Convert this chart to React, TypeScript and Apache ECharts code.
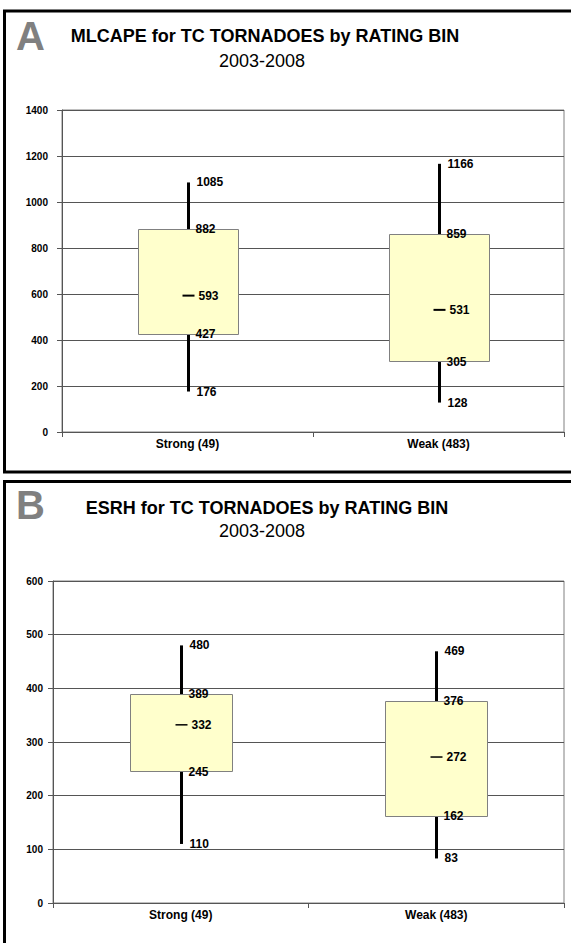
import React, { useEffect, useRef } from "react";
import * as echarts from "echarts";

const categories = ["Strong (49)", "Weak (483)"];

// MLCAPE panel A
const capeMin = [176, 128];
const capeQ1 = [427, 305];
const capeMedian = [593, 531];
const capeQ3 = [882, 859];
const capeMax = [1085, 1166];

// ESRH panel B
const esrhMin = [110, 83];
const esrhQ1 = [245, 162];
const esrhMedian = [332, 272];
const esrhQ3 = [389, 376];
const esrhMax = [480, 469];

const FONT = "'Liberation Sans', Arial, sans-serif";

function rows(mn: number[], q1: number[], md: number[], q3: number[], mx: number[]) {
  return categories.map((_, i) => [i, mn[i], q1[i], md[i], q3[i], mx[i]]);
}

function makeRender(dashWidth: number) {
  return (params: any, api: any) => {
    const idx = api.value(0);
    const mn = api.value(1);
    const q1 = api.value(2);
    const md = api.value(3);
    const q3 = api.value(4);
    const mx = api.value(5);
    const pMin = api.coord([idx, mn]);
    const pQ1 = api.coord([idx, q1]);
    const pMd = api.coord([idx, md]);
    const pQ3 = api.coord([idx, q3]);
    const pMax = api.coord([idx, mx]);
    const x = Math.round(pMin[0]) + 0.5;
    const band = api.size([1, 0])[0];
    const bw = band * 0.4;
    const font = `bold 12px ${FONT}`;
    const label = (v: number, p: number[], dx: number) => ({
      type: "text",
      style: {
        text: String(v),
        x: x + dx,
        y: p[1],
        font,
        fill: "#000",
        textAlign: "left",
        textVerticalAlign: "middle",
        verticalAlign: "middle",
      },
    });
    return {
      type: "group",
      children: [
        {
          type: "line",
          shape: { x1: x, y1: pMin[1], x2: x, y2: pMax[1] },
          style: { stroke: "#000", lineWidth: 3 },
        },
        {
          type: "rect",
          shape: {
            x: Math.round(x - bw / 2) + 0.5,
            y: Math.round(pQ3[1]) + 0.5,
            width: Math.round(bw),
            height: Math.round(pQ1[1] - pQ3[1]),
          },
          style: { fill: "#FFFFCC", stroke: "#808080", lineWidth: 1 },
        },
        {
          type: "line",
          shape: { x1: x - 6, y1: pMd[1], x2: x + 6, y2: pMd[1] },
          style: { stroke: "#000", lineWidth: dashWidth },
        },
        label(mx, pMax, 8),
        label(q3, pQ3, 7),
        label(md, pMd, 10),
        label(q1, pQ1, 7),
        label(mn, pMin, 8),
      ],
    };
  };
}

export default function App() {
  const ref = useRef<HTMLDivElement>(null);
  useEffect(() => {
    if (!ref.current) return;
    const chart = echarts.init(ref.current, undefined, { renderer: "svg" });
    const yAxisCommon = (max: number, interval: number, margin: number) => ({
      type: "value",
      min: 0,
      max,
      interval,
      axisLine: { show: true, lineStyle: { color: "#555", width: 1 } },
      axisTick: { show: true, length: 5, lineStyle: { color: "#555" } },
      axisLabel: {
        margin,
        color: "#000",
        fontWeight: "bold",
        fontSize: 10,
        fontFamily: FONT,
        formatter: (v: number) => String(v),
      },
      splitLine: { show: true, lineStyle: { color: "#555", width: 1 } },
    });
    const xAxisCommon = (gridIndex: number) => ({
      type: "category",
      gridIndex,
      data: categories,
      boundaryGap: true,
      axisLine: { show: true, lineStyle: { color: "#555", width: 1 } },
      axisTick: { show: true, length: 5, lineStyle: { color: "#555" } },
      axisLabel: {
        margin: 6,
        color: "#000",
        fontWeight: "bold",
        fontSize: 12,
        fontFamily: FONT,
      },
      splitLine: { show: false },
    });
    chart.setOption({
      animation: false,
      backgroundColor: "#fff",
      graphic: [
        {
          type: "rect",
          z: -10,
          shape: { x: 4.5, y: 11, width: 620, height: 461 },
          style: { fill: "#fff", stroke: "#000", lineWidth: 3 },
        },
        {
          type: "rect",
          z: -10,
          shape: { x: 4.5, y: 481.5, width: 620, height: 520 },
          style: { fill: "#fff", stroke: "#000", lineWidth: 3 },
        },
        {
          type: "text",
          style: { text: "A", x: 16, y: 36, font: `bold 40px ${FONT}`, fill: "#808080", textVerticalAlign: "middle", verticalAlign: "middle" },
        },
        {
          type: "text",
          style: { text: "MLCAPE for TC TORNADOES by RATING BIN", x: 265, y: 36, font: `bold 18px ${FONT}`, fill: "#000", textAlign: "center", textVerticalAlign: "middle", verticalAlign: "middle" },
        },
        {
          type: "text",
          style: { text: "2003-2008", x: 262, y: 61, font: `18px ${FONT}`, fill: "#000", textAlign: "center", textVerticalAlign: "middle", verticalAlign: "middle" },
        },
        {
          type: "text",
          style: { text: "B", x: 16, y: 505, font: `bold 40px ${FONT}`, fill: "#808080", textVerticalAlign: "middle", verticalAlign: "middle" },
        },
        {
          type: "text",
          style: { text: "ESRH for TC TORNADOES by RATING BIN", x: 267, y: 508, font: `bold 18px ${FONT}`, fill: "#000", textAlign: "center", textVerticalAlign: "middle", verticalAlign: "middle" },
        },
        {
          type: "text",
          style: { text: "2003-2008", x: 262, y: 531, font: `18px ${FONT}`, fill: "#000", textAlign: "center", textVerticalAlign: "middle", verticalAlign: "middle" },
        },
      ],
      grid: [
        { left: 62, top: 110, width: 502, height: 322, show: true, borderColor: "#808080", borderWidth: 1, backgroundColor: "transparent" },
        { left: 53, top: 581, width: 511, height: 322, show: true, borderColor: "#808080", borderWidth: 1, backgroundColor: "transparent" },
      ],
      xAxis: [xAxisCommon(0), xAxisCommon(1)],
      yAxis: [
        { ...yAxisCommon(1400, 200, 14), gridIndex: 0 },
        { ...yAxisCommon(600, 100, 10), gridIndex: 1 },
      ],
      series: [
        {
          type: "custom",
          xAxisIndex: 0,
          yAxisIndex: 0,
          renderItem: makeRender(2),
          encode: { x: 0, y: [1, 2, 3, 4, 5] },
          data: rows(capeMin, capeQ1, capeMedian, capeQ3, capeMax),
          z: 10,
        },
        {
          type: "custom",
          xAxisIndex: 1,
          yAxisIndex: 1,
          renderItem: makeRender(1.5),
          encode: { x: 0, y: [1, 2, 3, 4, 5] },
          data: rows(esrhMin, esrhQ1, esrhMedian, esrhQ3, esrhMax),
          z: 10,
        },
      ],
    });
    return () => chart.dispose();
  }, []);
  return (
    <div
      ref={ref}
      style={{ position: "fixed", left: 0, top: 0, width: 571, height: 943 }}
    />
  );
}
